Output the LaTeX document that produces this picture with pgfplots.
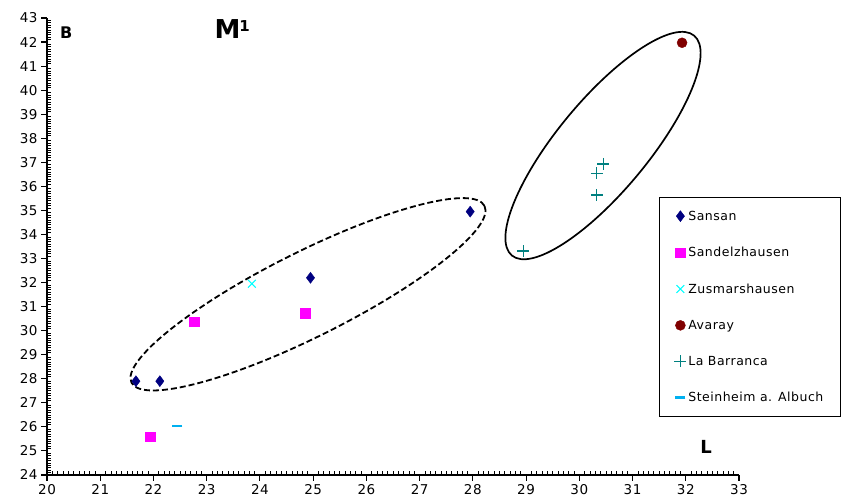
\documentclass[border=0pt]{standalone}
\usepackage{fontspec}
\setmainfont{DejaVu Sans}[LetterSpace=4]
\usepackage{pgfplots}
\pgfplotsset{compat=1.18}

\definecolor{sansan}{HTML}{000080}
\definecolor{sandel}{HTML}{FF00FF}
\definecolor{zusmar}{HTML}{00FFFF}
\definecolor{avaray}{HTML}{800000}
\definecolor{barranca}{HTML}{008080}
\definecolor{steinheim}{HTML}{00B0F0}

\begin{document}
\begin{tikzpicture}
\begin{axis}[
    scale only axis,
    width=692pt, height=457pt,
    xmin=20, xmax=33, ymin=24, ymax=43,
    axis lines=left,
    axis line style={-, line width=1.3pt},
    xtick distance=1, ytick distance=1,
    minor tick num=9,
    tick align=outside,
    major tick length=6pt,
    minor tick length=-3.5pt,
    major tick style={black, line width=1.1pt},
    minor tick style={black, line width=0.7pt},
    /pgf/number format/assume math mode=true,
    ticklabel style={font=\fontsize{13.5}{15}\selectfont},
    clip=false,
    legend cell align=left,
    legend image code/.code={\draw[mark repeat=2,mark phase=2,#1] plot coordinates {(0cm,0cm) (0.15cm,0cm) (0.3cm,0cm)};},
    legend style={
        at={(rel axis cs:0.884,0.608)}, anchor=north west,
        draw=black, line width=1.3pt,
        font=\fontsize{12.5}{14}\selectfont,
        row sep=21.5pt, inner xsep=15pt, inner ysep=11pt,
    },
]
    % Sansan
    \addplot[only marks, mark=diamond*, mark size=5.5pt, color=sansan, line width=0.4pt]
        coordinates {(21.67,27.9) (22.12,27.9) (24.95,32.2) (27.95,34.95)};
    \addlegendentry{Sansan}
    % Sandelzhausen
    \addplot[only marks, mark=square*, mark size=4.8pt, color=sandel, line width=0.4pt]
        coordinates {(22.76,30.37) (24.85,30.72) (21.94,25.6)};
    \addlegendentry{Sandelzhausen}
    % Zusmarshausen
    \addplot[only marks, mark=x, mark size=5.5pt, color=zusmar, line width=1.1pt]
        coordinates {(23.85,31.95)};
    \addlegendentry{Zusmarshausen}
    % Avaray
    \addplot[only marks, mark=*, mark size=5pt, color=avaray, line width=0.4pt]
        coordinates {(31.93,41.97)};
    \addlegendentry{Avaray}
    % La Barranca
    \addplot[only marks, mark=+, mark size=6pt, color=barranca, line width=1.2pt]
        coordinates {(28.95,33.31) (30.33,36.54) (30.45,36.93) (30.33,35.64)};
    \addlegendentry{La Barranca}
    % Steinheim
    \addplot[only marks, mark=-, mark size=5pt, color=steinheim, line width=2.8pt]
        coordinates {(22.45,26.04)};
    \addlegendentry{Steinheim a. Albuch}

    % group outlines
    \draw[black, line width=1.8pt, dash pattern=on 6pt off 3pt,
          rotate around={26.6:(axis cs:24.903,31.513)}]
        (axis cs:24.903,31.513) ellipse [x radius=197.4pt, y radius=42.4pt];
    \draw[black, line width=1.7pt,
          rotate around={50.35:(axis cs:30.445,37.696)}]
        (axis cs:30.445,37.696) ellipse [x radius=142.8pt, y radius=45.4pt];

    \node[font=\bfseries\fontsize{16}{16}\selectfont] at (axis cs:20.36,42.38) {B};
    \node[font=\bfseries\fontsize{26}{26}\selectfont] at (axis cs:23.48,42.55)
        {M\kern-1pt\raisebox{7pt}{\fontsize{15}{15}\selectfont 1}};
    \node[font=\bfseries\fontsize{18}{18}\selectfont] at (axis cs:32.38,25.16) {L};

    \coordinate (bl) at (axis cs:19.117,22.794);
    \coordinate (tr) at (axis cs:34.916,43.748);
\end{axis}
\pgfresetboundingbox
\path[use as bounding box] (bl) rectangle (tr);
\end{tikzpicture}
\end{document}
